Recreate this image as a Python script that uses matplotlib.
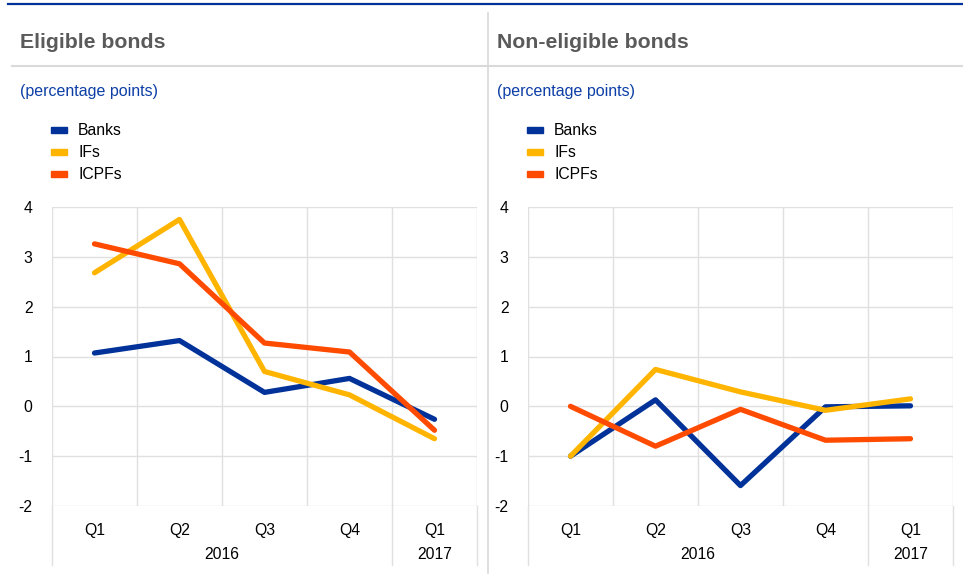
import matplotlib.pyplot as plt
from matplotlib.lines import Line2D
from matplotlib.patches import Rectangle
import matplotlib.transforms as mtrans

plt.rcParams['font.family'] = ['Liberation Sans', 'DejaVu Sans']

quarters = ['Q1', 'Q2', 'Q3', 'Q4', 'Q1']
years = ['2016', '2017']
series = ['Banks', 'IFs', 'ICPFs']
colors = ['#003299', '#ffb400', '#ff4b00']

elig_banks = [1.07, 1.32, 0.28, 0.56, -0.26]
elig_ifs = [2.68, 3.75, 0.70, 0.23, -0.65]
elig_icpfs = [3.26, 2.86, 1.27, 1.09, -0.48]

nonelig_banks = [-1.0, 0.13, -1.59, -0.01, 0.01]
nonelig_ifs = [-1.0, 0.74, 0.29, -0.08, 0.15]
nonelig_icpfs = [0.0, -0.80, -0.06, -0.68, -0.65]

W, H = 963, 581
fig = plt.figure(figsize=(W / 100, H / 100), dpi=100)

def fx(px):
    return px / W

def fy(py):
    return 1 - py / H

# frame lines
fig.add_artist(Line2D([fx(8), 1], [fy(3.5), fy(3.5)], color='#003299', lw=1.6))
fig.add_artist(Line2D([fx(12), 1], [fy(66), fy(66)], color='#d9d9d9', lw=1.5))
fig.add_artist(Line2D([fx(487.5), fx(487.5)], [fy(13), fy(573)], color='#d9d9d9', lw=1.2))

panels = [
    ('Eligible bonds', 20, 52, [elig_banks, elig_ifs, elig_icpfs]),
    ('Non-eligible bonds', 497, 528, [nonelig_banks, nonelig_ifs, nonelig_icpfs]),
]

for title, tx, axl, data in panels:
    fig.text(fx(tx), fy(42), title, fontsize=15.3, fontweight='bold', color='#5a5a5a',
             va='center', ha='left')
    fig.text(fx(tx), fy(91.5), '(percentage points)', fontsize=11.5, color='#0d3fa6',
             va='center', ha='left')
    for i, (name, c) in enumerate(zip(series, colors)):
        yc = 130 + 22 * i
        fig.add_artist(Rectangle((fx(axl - 1), fy(yc + 3)), 16 / W, 6 / H,
                                 color=c, transform=fig.transFigure))
        fig.text(fx(axl + 26), fy(yc + 0.5), name, fontsize=11.3, color='#000000',
                 va='center', ha='left')

    ax = fig.add_axes([fx(axl), fy(506), 425 / W, 299 / H])
    x = list(range(len(quarters)))
    for vals, c in zip(data, colors):
        ax.plot(x, vals, color=c, lw=3.8, solid_capstyle='round', zorder=3)
    ax.set_xlim(-0.5, len(quarters) - 0.5)
    ax.set_ylim(-2, 4)
    ax.set_yticks(range(-2, 5))
    ax.set_yticklabels([str(v) for v in range(-2, 5)])
    ax.set_xticks(x)
    ax.set_xticklabels(quarters)
    ax.set_xticks([v - 0.5 for v in range(len(quarters) + 1)], minor=True)
    ax.grid(True, which='major', axis='y', color='#e0e0e0', lw=1.0)
    ax.grid(True, which='minor', axis='x', color='#e0e0e0', lw=1.0)
    ax.tick_params(which='both', length=0)
    ax.tick_params(axis='y', pad=14, labelsize=11.3)
    ax.tick_params(axis='x', pad=12, labelsize=11.3)
    for s in ax.spines.values():
        s.set_visible(False)
    ax.set_axisbelow(True)

    trans = mtrans.blended_transform_factory(ax.transData, ax.transAxes)
    for xv in [-0.5, 3.5, 4.5]:
        ax.plot([xv, xv], [0, -0.197], color='#e0e0e0', lw=1.0, transform=trans,
                clip_on=False)
    ax.text(1.5, -0.163, years[0], transform=trans, ha='center', va='center', fontsize=11.3)
    ax.text(4.0, -0.163, years[1], transform=trans, ha='center', va='center', fontsize=11.3)

fig.savefig('out.png', dpi=100)
